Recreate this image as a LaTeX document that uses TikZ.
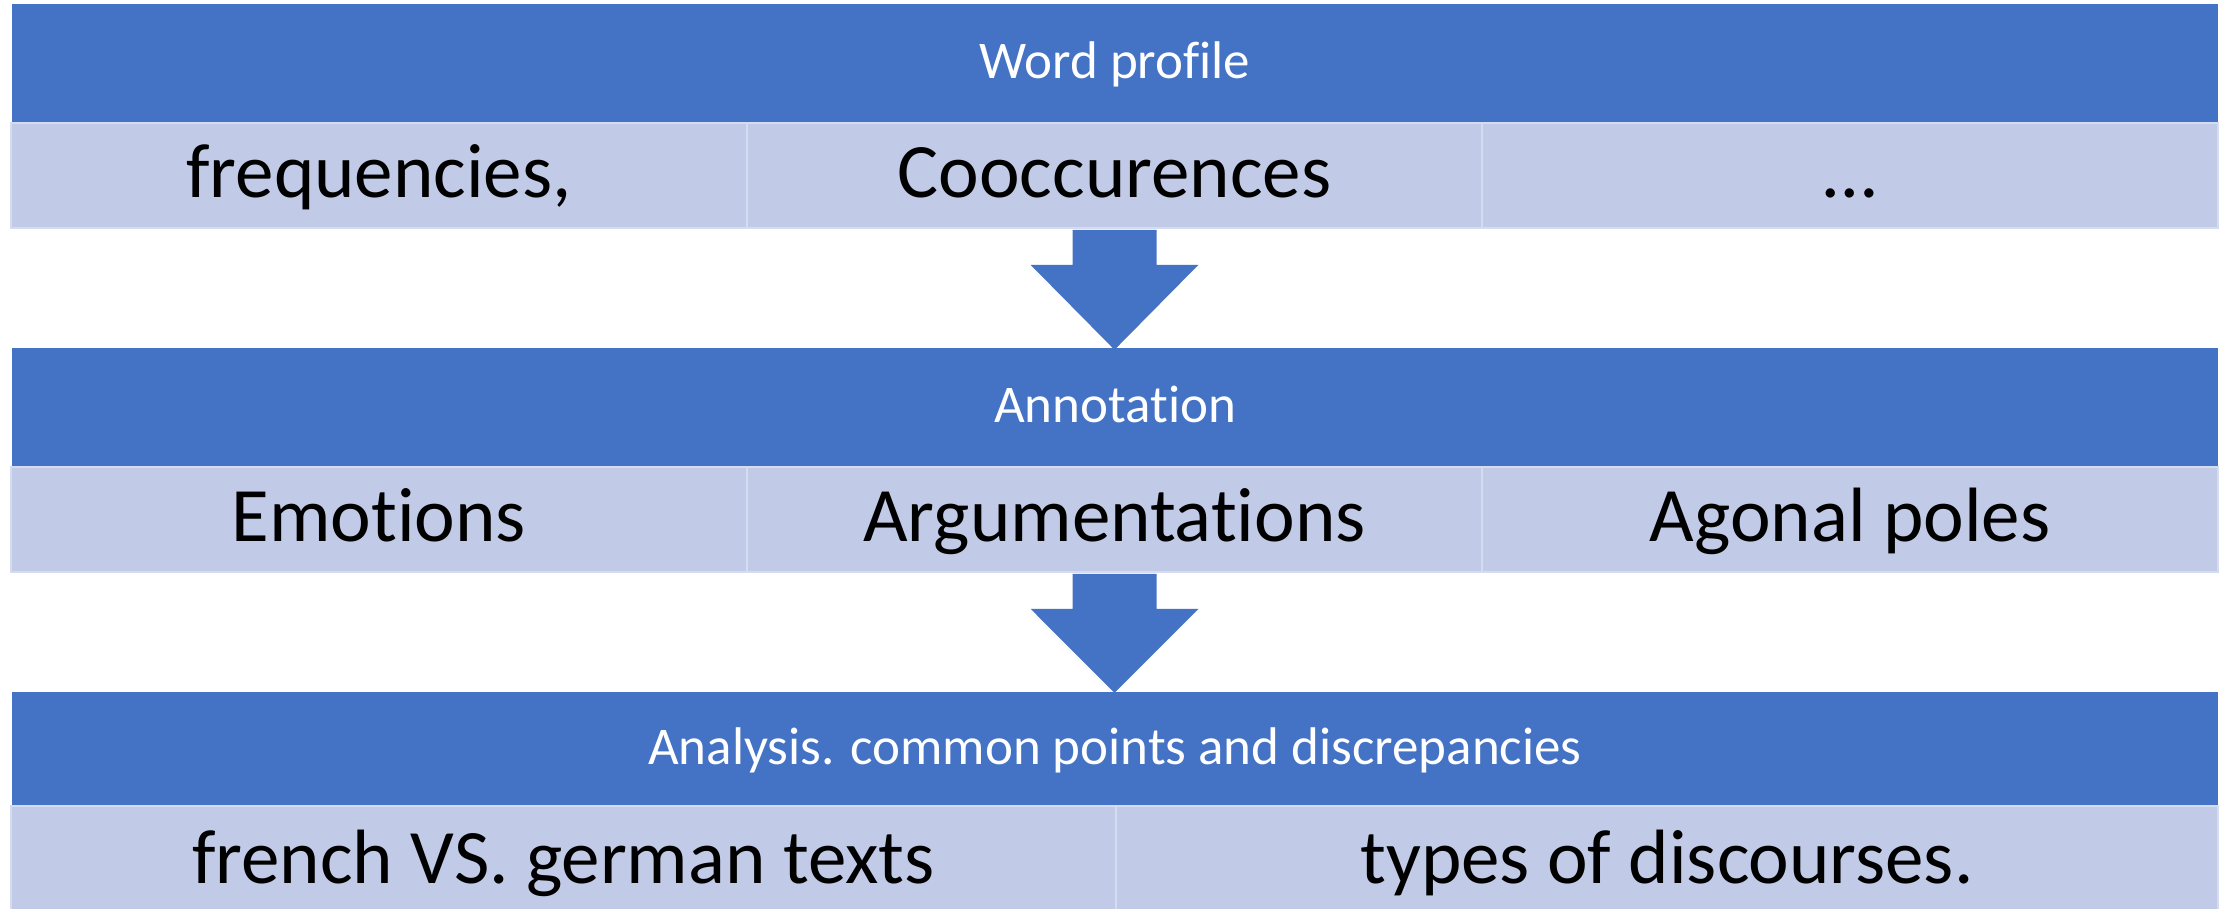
\documentclass[tikz,border=0pt]{standalone}
\usepackage{fontspec}
\setmainfont{Carlito}[Ligatures=NoCommon]
\usetikzlibrary{calc}
\definecolor{dk}{RGB}{68,114,196}
\definecolor{lt}{RGB}{193,202,230}
\definecolor{edgec}{RGB}{214,220,239}
\begin{document}
\begin{tikzpicture}[x=1pt,y=-1pt,
  band/.style={fill=dk, draw=none, inner sep=0pt, text=white,
    font=\fontsize{53}{60}\selectfont, text depth=0pt, minimum width=2206pt},
  cell/.style={fill=lt, draw=edgec, line width=1.5pt, inner sep=0pt, text=black,
    font=\fontsize{77}{90}\selectfont, text depth=0pt},
  blockarrow/.style={fill=dk, draw=none}]
\useasboundingbox (0,0) rectangle (2224,908);
\fill[white] (0,0) rectangle (2224,908);

% block 1
\node[band, minimum height=119pt, text height=29pt] (wp) at (1115,63.5) {Word profile};
\node[cell, minimum width=736pt, minimum height=105pt, text height=43pt] (r1a) at (379,175.5) {frequencies,};
\node[cell, minimum width=735pt, minimum height=105pt, text height=43pt] (r1b) at (1114.5,175.5) {Cooccurences};
\node[cell, minimum width=736pt, minimum height=105pt, text height=43pt] (r1c) at (1850,175.5) {\dots};

% block 2
\node[band, minimum height=119pt, text height=29pt] (ann) at (1115,407.5) {Annotation};
\node[cell, minimum width=736pt, minimum height=105pt, text height=43pt] (r2a) at (379,519.5) {Emotions};
\node[cell, minimum width=735pt, minimum height=105pt, text height=43pt] (r2b) at (1114.5,519.5) {Argumentations};
\node[cell, minimum width=736pt, minimum height=105pt, text height=43pt] (r2c) at (1850,519.5) {Agonal poles};

% block 3
\node[band, minimum height=114pt, text height=30pt] (ana) at (1115,749) {Analysis. common points and discrepancies};
\node[cell, minimum width=1105pt, minimum height=104pt, text height=50pt] (r3a) at (563.5,858) {french VS. german texts};
\node[cell, minimum width=1102pt, minimum height=104pt, text height=50pt] (r3b) at (1667,858) {types of discourses.};

% arrows
\fill[blockarrow]
  ($(r1b.south)+(-42,1)$) -- ($(r1b.south)+(42,1)$) -- ($(r1b.south)+(42,36)$) --
  ($(r1b.south)+(84,36)$) -- ($(ann.north -| r1b.south)+(0,2)$) --
  ($(r1b.south)+(-84,36)$) -- ($(r1b.south)+(-42,36)$) -- cycle;
\fill[blockarrow]
  ($(r2b.south)+(-42,1)$) -- ($(r2b.south)+(42,1)$) -- ($(r2b.south)+(42,36)$) --
  ($(r2b.south)+(84,36)$) -- ($(ana.north -| r2b.south)+(0,1)$) --
  ($(r2b.south)+(-84,36)$) -- ($(r2b.south)+(-42,36)$) -- cycle;
\end{tikzpicture}
\end{document}
